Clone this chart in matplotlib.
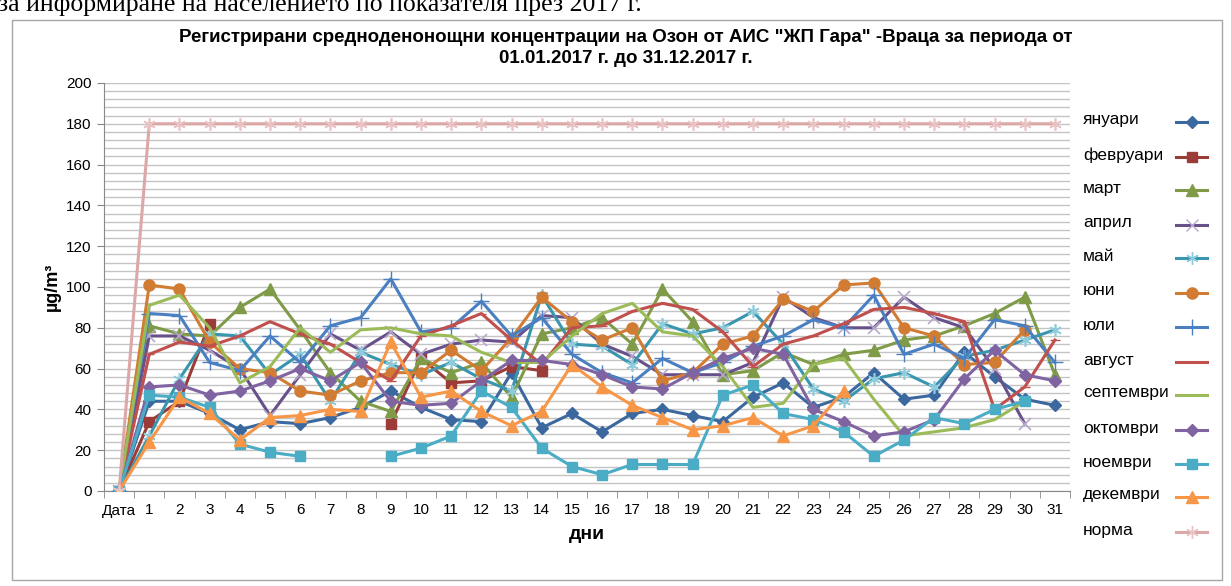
import numpy as np
import matplotlib
matplotlib.use('Agg')
import matplotlib.pyplot as plt
from matplotlib.lines import Line2D
from matplotlib.patches import Rectangle

nan = np.nan

#=====================================
# Ozone daily means, AIS "ZhP Gara" Vratsa 2017
#=====================================

# x categories
days = ['Дата'] + [str(d) for d in range(1, 32)]

# monthly series (day 1..31), ug/m3
jan = [44, 44, 38, 30, 34, 33, 36, 41, 49, 41, 35, 34, 58, 31, 38, 29, 38, 40, 37, 34,
       46, 53, 41, 46, 58, 45, 47, 68, 56, 45, 42]
feb = [34, 44, 82, nan, nan, nan, nan, nan, 33, 65, 53, 54, 61, 59, nan, nan, nan, nan,
       nan, nan, nan, nan, nan, nan, nan, nan, nan, nan, nan, nan, nan]
mar = [81, 77, 76, 90, 99, 79, 58, 44, 39, 65, 58, 63, 46, 77, 80, 85, 72, 99, 83, 57,
       59, 68, 62, 67, 69, 74, 76, 81, 87, 95, 57]
apr = [76, 76, 69, 60, 37, 57, 77, 69, 78, 67, 72, 74, 73, 86, 85, 72, 66, 57, 57, 57,
       63, 95, 85, 80, 80, 95, 85, 80, 60, 33, nan]
may = [27, 55, 77, 76, 57, 67, 44, 68, 62, 57, 63, 55, 49, 96, 72, 71, 62, 82, 77, 80,
       88, 72, 50, 44, 55, 58, 51, 66, 69, 74, 79]
jun = [101, 99, 73, 60, 58, 49, 47, 54, 58, 58, 69, 59, 75, 95, 83, 74, 80, 54, 58, 72,
       76, 94, 88, 101, 102, 80, 76, 62, 63, 79, nan]
jul = [87, 86, 63, 59, 76, 63, 81, 85, 104, 78, 80, 93, 76, 85, 67, 58, 53, 65, 58, 63,
       71, 76, 84, 80, 96, 67, 72, 65, 84, 81, 63]
aug = [67, 73, 71, 76, 83, 77, 72, 63, 54, 76, 81, 87, 74, 62, 80, 81, 88, 92, 89, 78,
       61, 72, 76, 82, 89, 90, 87, 83, 40, 51, 74]
sep = [91, 96, 80, 53, 61, 80, 68, 79, 80, 77, 76, 68, 63, 63, 76, 87, 92, 78, 76, 61,
       41, 43, 62, 65, 45, 27, 29, 31, 35, 44, nan]
octo = [51, 52, 47, 49, 54, 60, 54, 63, 44, 42, 43, 54, 64, 64, 62, 57, 51, 50, 58, 65,
        70, 67, 40, 34, 27, 29, 35, 55, 69, 57, 54]
nov = [47, 46, 41, 23, 19, 17, nan, nan, 17, 21, 27, 49, 41, 21, 12, 8, 13, 13, 13, 47,
       52, 38, 35, 29, 17, 25, 36, 33, 40, 44, nan]
dec = [24, 46, 38, 25, 36, 37, 40, 39, 73, 46, 49, 39, 32, 39, 62, 51, 42, 36, 30, 32,
       36, 27, 32, 49, nan, nan, nan, nan, nan, nan, nan]
norm = [180] * 31

names = ['януари', 'февруари', 'март', 'април', 'май', 'юни', 'юли', 'август',
         'септември', 'октомври', 'ноември', 'декември', 'норма']
series = [jan, feb, mar, apr, may, jun, jul, aug, sep, octo, nov, dec, norm]

# styles (excel-ish palette)
colors = ['#3B689E', '#9C3C39', '#7F9B48', '#68508A', '#3A95AE', '#D27B32',
          '#4A7FC1', '#C0504D', '#9BBB59', '#8064A2', '#4BACC6', '#F79646', '#DCA8A7']
markers = ['D', 's', '^', 'x', (6, 2, 0), 'o', '+', '_', None, 'D', 's', '^', (6, 2, 0)]
msizes = [6, 7, 8, 8, 9, 8, 11, 7, 0, 6, 7, 8, 9]
mfc = [None, None, None, '#B7A8CC', '#8FCBDB', None, None, None, None, None, None, None, '#E8C4C4']

plt.rcParams['font.family'] = ['Liberation Sans', 'DejaVu Sans']

W, H = 1231, 586
fig = plt.figure(figsize=(W / 100, H / 100), dpi=100)
ax = fig.add_axes([104 / W, 1 - 491 / H, (1070 - 104) / W, (491 - 83) / H])

x = np.arange(len(days))
for vals, c, m, ms, fc in zip(series, colors, markers, msizes, mfc):
    y = np.array([0] + vals, dtype=float)
    mec = fc if fc is not None else c
    ax.plot(x, y, color=c, lw=2.2, marker=m, markersize=ms, markerfacecolor=c,
            markeredgecolor=mec, markeredgewidth=1.2 if fc else 1, zorder=3)

# --- axes formatting
ax.set_xlim(-0.5, len(days) - 0.5)
ax.set_ylim(0, 200)
ax.set_yticks(np.arange(0, 201, 20))
ax.set_yticks(np.arange(0, 201, 4), minor=True)
ax.yaxis.grid(True, which='both', color='#C4C4C4', lw=1, zorder=0)
ax.set_axisbelow(True)
ax.tick_params(axis='y', which='minor', length=0)
ax.tick_params(axis='y', which='major', length=5, color='#888888', labelsize=11, pad=4)
ax.set_xticks(x)
ax.set_xticklabels(days, fontsize=11)
ax.set_xticks(np.arange(-0.5, len(days), 1), minor=True)
ax.tick_params(axis='x', which='major', length=0, pad=9)
ax.tick_params(axis='x', which='minor', length=5, color='#888888')
for s in ['top', 'right']:
    ax.spines[s].set_visible(False)
for s in ['left', 'bottom']:
    ax.spines[s].set_color('#888888')

ax.set_ylabel('µg/m³', fontsize=13, fontweight='bold', labelpad=4)
ax.set_xlabel('дни', fontsize=14, fontweight='bold', labelpad=6)

fig.text(626 / W, 1 - 48 / H,
         'Регистрирани средноденонощни концентрации на Озон от АИС "ЖП Гара" -Враца за периода от\n'
         '01.01.2017 г. до 31.12.2017 г.',
         ha='center', va='center', fontsize=13.5, fontweight='bold', linespacing=1.3)

# --- legend (text left, sample right)
leg_y = [122, 157, 190, 225, 258, 293, 327, 362, 395, 430, 464, 497, 532]
for nm, ly, c, m, ms, fc in zip(names, leg_y, colors, markers, msizes, mfc):
    fig.text(1083 / W, 1 - (ly - 2) / H, nm, fontsize=12.5, va='center', ha='left')
    fig.add_artist(Line2D([1176 / W, 1207 / W], [1 - ly / H, 1 - ly / H], color=c, lw=2.2))
    if m is not None:
        fig.add_artist(Line2D([1191.5 / W], [1 - ly / H], color=c, marker=m, markersize=ms,
                              markerfacecolor=c, markeredgecolor=fc if fc else c))

# --- chart frame + cut-off text above (page text, only its lower part shows)
fig.add_artist(Rectangle((12 / W, 1 - 580 / H), (1222 - 12) / W, (580 - 20) / H,
                         transform=fig.transFigure, fill=False, edgecolor='#A6A6A6', lw=1))
fig.text(-2 / W, 1 - 11 / H, 'за информиране на населението по показателя през 2017 г.',
         fontsize=18.5, family='Liberation Serif', va='baseline', ha='left')

fig.savefig('out.png', dpi=100)
